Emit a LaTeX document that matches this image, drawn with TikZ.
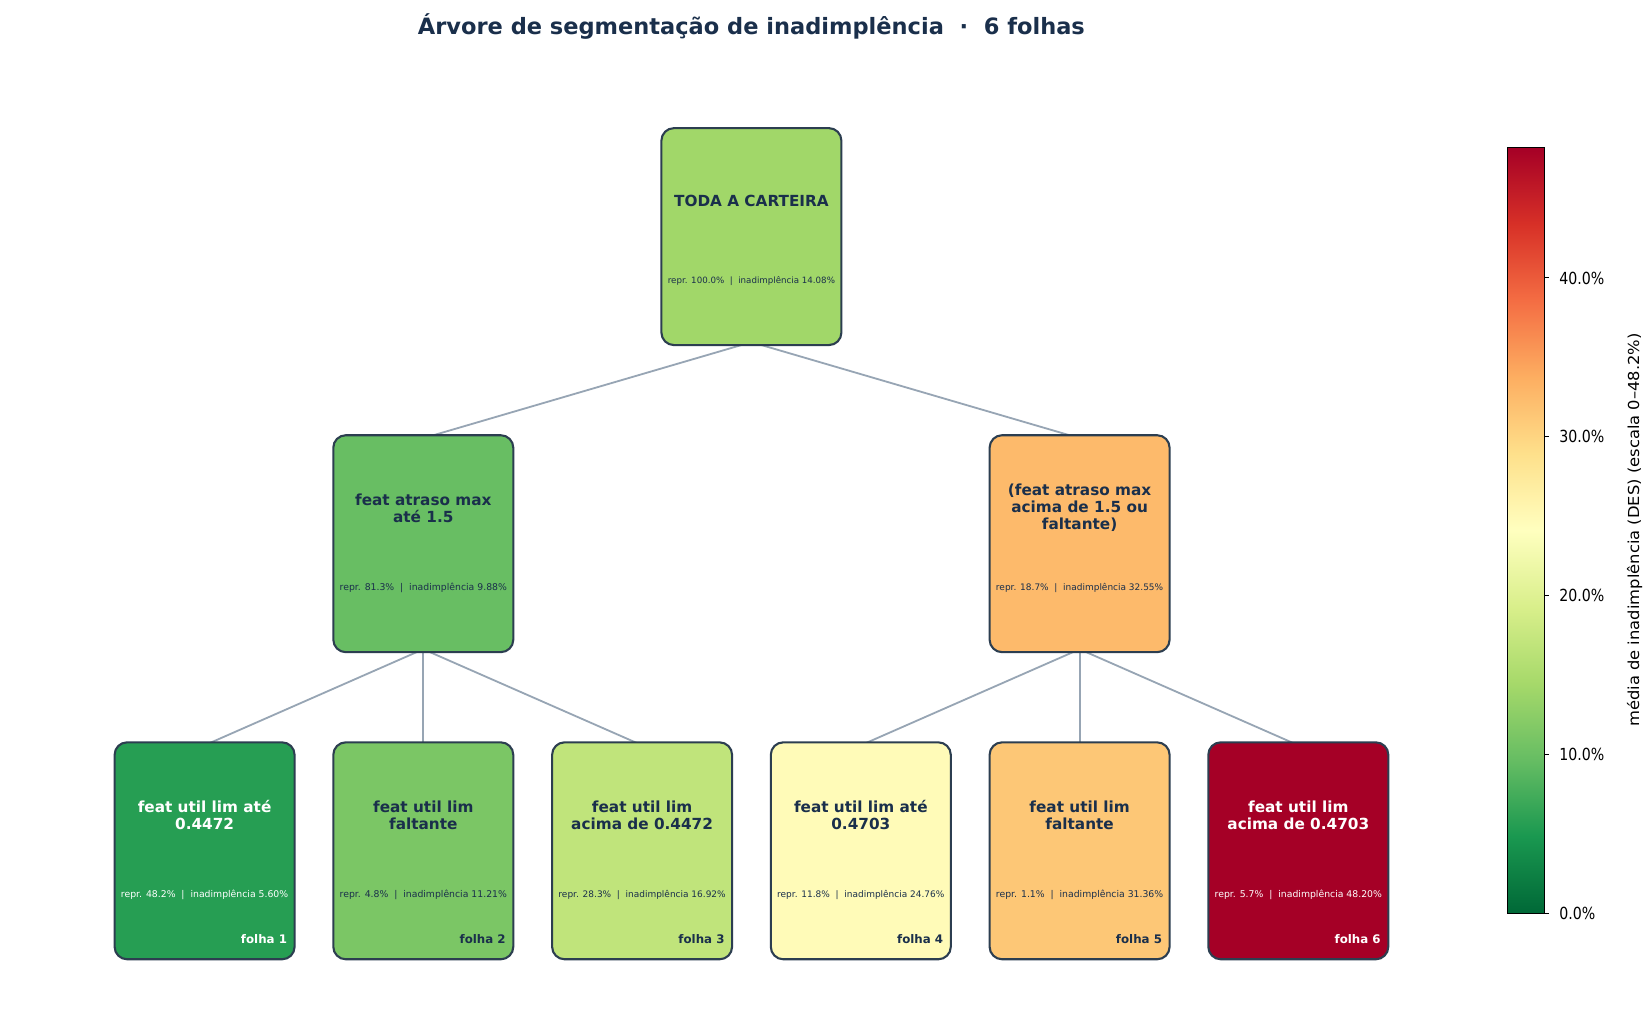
\documentclass[tikz,border=0pt]{standalone}
\usepackage{fontspec}
\setmainfont{DejaVu Sans}
\usetikzlibrary{calc,backgrounds}
\definecolor{navy}{HTML}{1A2F4B}
\definecolor{boxedge}{HTML}{2C3E50}
\definecolor{edgecol}{HTML}{97A5B4}
\definecolor{cRoot}{HTML}{A1D769}
\definecolor{cML}{HTML}{68BE63}
\definecolor{cMR}{HTML}{FDBA6B}
\definecolor{cL1}{HTML}{269E53}
\definecolor{cL2}{HTML}{7BC665}
\definecolor{cL3}{HTML}{C0E47B}
\definecolor{cL4}{HTML}{FFFBB8}
\definecolor{cL5}{HTML}{FDC776}
\definecolor{cL6}{HTML}{A50026}
\definecolor{s0}{HTML}{006837}
\definecolor{s1}{HTML}{1A9850}
\definecolor{s2}{HTML}{66BD63}
\definecolor{s3}{HTML}{A6D96A}
\definecolor{s4}{HTML}{D9EF8B}
\definecolor{s5}{HTML}{FFFFBF}
\definecolor{s6}{HTML}{FEE08B}
\definecolor{s7}{HTML}{FDAE61}
\definecolor{s8}{HTML}{F46D43}
\definecolor{s9}{HTML}{D73027}
\definecolor{s10}{HTML}{A50026}
\pgfdeclareverticalshading{rdylgn}{100bp}{color(0bp)=(s0); color(25bp)=(s0); color(30bp)=(s1); color(35bp)=(s2); color(40bp)=(s3); color(45bp)=(s4); color(50bp)=(s5); color(55bp)=(s6); color(60bp)=(s7); color(65bp)=(s8); color(70bp)=(s9); color(75bp)=(s10); color(100bp)=(s10)}
\newcommand{\statline}[1]{\resizebox{120.4pt}{!}{\fontsize{6.2}{7}\selectfont #1}}
\tikzset{
  segbox/.style={draw=boxedge, line width=1.5pt, rounded corners=9pt, minimum width=129.6pt, minimum height=156.2pt, inner sep=0pt},
  mainlbl/.style={align=center, font=\bfseries\fontsize{11}{12.3}\selectfont, text=navy, inner sep=0pt},
  statlbl/.style={text=navy, inner sep=0pt},
  leaflbl/.style={font=\bfseries\fontsize{8.5}{10}\selectfont, text=navy, inner sep=0pt, anchor=east},
  wht/.style={text=white},
  link/.style={draw=edgecol, line width=1.3pt},
  ticklbl/.style={anchor=base west, inner sep=0pt, font=\fontsize{12}{14}\selectfont},
}
\begin{document}
\begin{tikzpicture}[x=0.72pt,y=-0.72pt]
\useasboundingbox (0,0) rectangle (1649,1027);
\node[font=\bfseries\fontsize{16.2}{19}\selectfont, text=navy] (title) at (751.4,26.3) {Árvore de segmentação de inadimplência \ · \ 6 folhas};
% boxes
\node[segbox, fill=cRoot] (root) at (751.4,236.6) {};
\node[segbox, fill=cML] (ml) at (423.3,543.7) {};
\node[segbox, fill=cMR] (mr) at (1079.6,543.7) {};
\node[segbox, fill=cL1] (l1) at (204.6,850.8) {};
\node[segbox, fill=cL2] (l2) at (423.3,850.8) {};
\node[segbox, fill=cL3] (l3) at (642.1,850.8) {};
\node[segbox, fill=cL4] (l4) at (860.8,850.8) {};
\node[segbox, fill=cL5] (l5) at (1079.6,850.8) {};
\node[segbox, fill=cL6] (l6) at (1298.3,850.8) {};
% connectors
\begin{scope}[on background layer]
\fill[white] (0,0) rectangle (1649,1027);
\draw[link] ($(root.south)+(0,-4)$) -- ($(ml.north)+(0,4)$);
\draw[link] ($(root.south)+(0,-4)$) -- ($(mr.north)+(0,4)$);
\draw[link] ($(ml.south)+(0,-4)$) -- ($(l1.north)+(0,4)$);
\draw[link] ($(ml.south)+(0,-4)$) -- ($(l2.north)+(0,4)$);
\draw[link] ($(ml.south)+(0,-4)$) -- ($(l3.north)+(0,4)$);
\draw[link] ($(mr.south)+(0,-4)$) -- ($(l4.north)+(0,4)$);
\draw[link] ($(mr.south)+(0,-4)$) -- ($(l5.north)+(0,4)$);
\draw[link] ($(mr.south)+(0,-4)$) -- ($(l6.north)+(0,4)$);
\end{scope}
% labels
\node[mainlbl] (rootT) at ($(root)+(0,-35.8)$) {TODA A CARTEIRA};
\node[statlbl] (rootS) at ($(root)+(0,44.2)$) {\statline{repr. 100.0\%\ \ |\ \ inadimplência 14.08\%}};
\node[mainlbl] (mlT) at ($(ml)+(0,-35.8)$) {feat atraso max\\até 1.5};
\node[statlbl] (mlS) at ($(ml)+(0,44.2)$) {\statline{repr. 81.3\%\ \ |\ \ inadimplência 9.88\%}};
\node[mainlbl] (mrT) at ($(mr)+(0,-35.8)$) {(feat atraso max\\acima de 1.5 ou\\faltante)};
\node[statlbl] (mrS) at ($(mr)+(0,44.2)$) {\statline{repr. 18.7\%\ \ |\ \ inadimplência 32.55\%}};
\node[mainlbl, wht] (l1T) at ($(l1)+(0,-35.8)$) {feat util lim até\\0.4472};
\node[statlbl, wht] (l1S) at ($(l1)+(0,44.2)$) {\statline{repr. 48.2\%\ \ |\ \ inadimplência 5.60\%}};
\node[leaflbl, wht] (l1F) at ($(l1.east)+(-8.4,88.3)$) {folha 1};
\node[mainlbl] (l2T) at ($(l2)+(0,-35.8)$) {feat util lim\\faltante};
\node[statlbl] (l2S) at ($(l2)+(0,44.2)$) {\statline{repr. 4.8\%\ \ |\ \ inadimplência 11.21\%}};
\node[leaflbl] (l2F) at ($(l2.east)+(-8.4,88.3)$) {folha 2};
\node[mainlbl] (l3T) at ($(l3)+(0,-35.8)$) {feat util lim\\acima de 0.4472};
\node[statlbl] (l3S) at ($(l3)+(0,44.2)$) {\statline{repr. 28.3\%\ \ |\ \ inadimplência 16.92\%}};
\node[leaflbl] (l3F) at ($(l3.east)+(-8.4,88.3)$) {folha 3};
\node[mainlbl] (l4T) at ($(l4)+(0,-35.8)$) {feat util lim até\\0.4703};
\node[statlbl] (l4S) at ($(l4)+(0,44.2)$) {\statline{repr. 11.8\%\ \ |\ \ inadimplência 24.76\%}};
\node[leaflbl] (l4F) at ($(l4.east)+(-8.4,88.3)$) {folha 4};
\node[mainlbl] (l5T) at ($(l5)+(0,-35.8)$) {feat util lim\\faltante};
\node[statlbl] (l5S) at ($(l5)+(0,44.2)$) {\statline{repr. 1.1\%\ \ |\ \ inadimplência 31.36\%}};
\node[leaflbl] (l5F) at ($(l5.east)+(-8.4,88.3)$) {folha 5};
\node[mainlbl, wht] (l6T) at ($(l6)+(0,-35.8)$) {feat util lim\\acima de 0.4703};
\node[statlbl, wht] (l6S) at ($(l6)+(0,44.2)$) {\statline{repr. 5.7\%\ \ |\ \ inadimplência 48.20\%}};
\node[leaflbl, wht] (l6F) at ($(l6.east)+(-8.4,88.3)$) {folha 6};
% colorbar
\shade[shading=rdylgn] (1507,147.5) rectangle (1544,913);
\draw[line width=0.6pt] (1507,147.5) rectangle (1544,913);
\foreach \v/\y in {0/913,10/754.2,20/595.4,30/436.5,40/277.7}{
  \coordinate (tk\v) at (1544,\y);
  \draw[line width=0.6pt] (tk\v) -- ++(5,0);
  \node[ticklbl] (tl\v) at ($(tk\v)+(15,6.3)$) {\scalebox{0.85}[1]{\v.0\%}};
}
\node[rotate=90, anchor=base, font=\fontsize{10.9}{12}\selectfont, inner sep=0pt] (cbl) at (1639,530) {\scalebox{1.08}[1]{média de inadimplência (DES) (escala 0–48.2\%)}};
\end{tikzpicture}
\end{document}
